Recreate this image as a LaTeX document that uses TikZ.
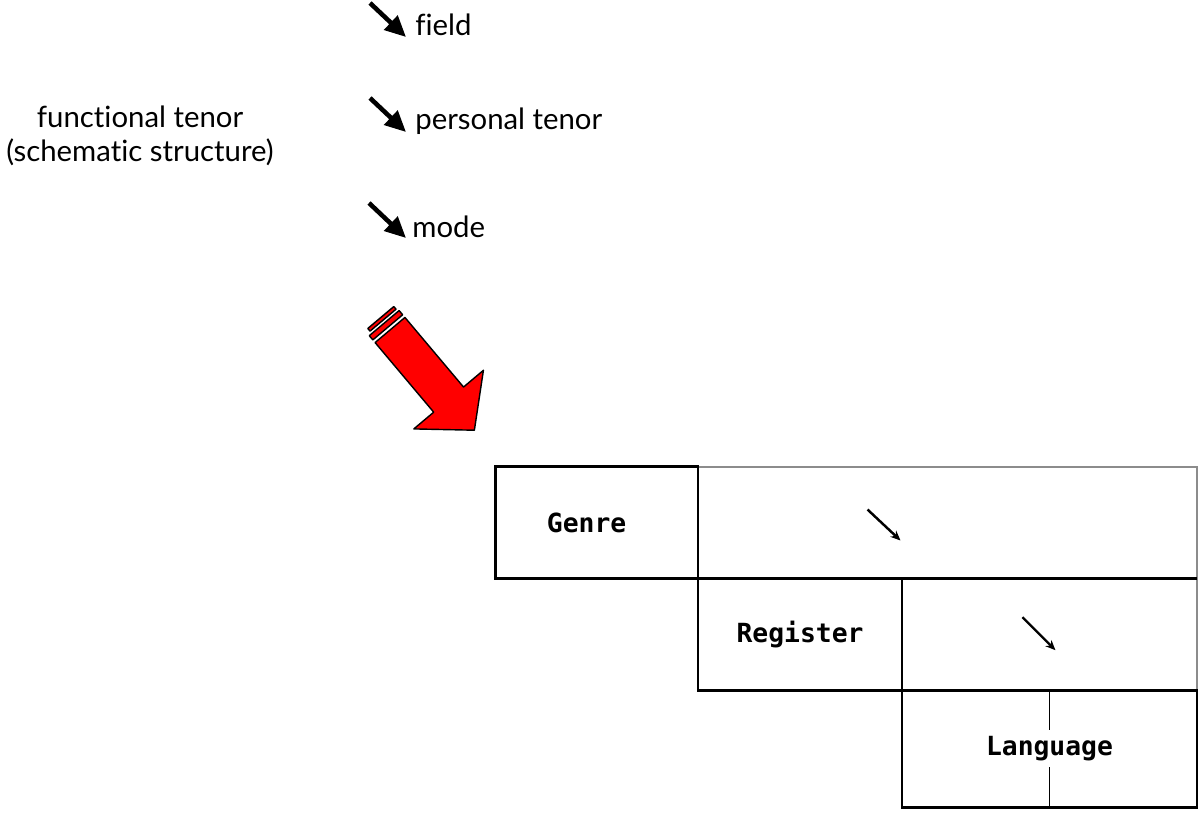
\documentclass[tikz,border=0pt]{standalone}
\usepackage{fontspec}
\setmainfont{Lato}[Ligatures=NoCommon]
\newfontfamily\pixelfont{DejaVu Sans Mono}
\usepackage{tikz}
\usetikzlibrary{arrows.meta,positioning,calc}
\definecolor{arrowred}{RGB}{255,0,0}
\definecolor{rulegray}{RGB}{140,140,140}

\begin{document}
\begin{tikzpicture}[x=0.02cm, y=-0.02cm, font=\fontsize{16.7}{19.5}\selectfont]
    \tikzstyle{pointer} = [line width=2.6pt, -{Triangle[length=0.42cm,width=0.38cm]}]
    \tikzstyle{tinyarrow} = [line width=1.4pt, -{Stealth[length=0.2cm,width=0.17cm]}]
    \tikzstyle{box} = [rectangle, draw, line width=1.6pt, outer sep=0pt, inner sep=0pt, minimum height=2.23cm, font=\pixelfont\bfseries\fontsize{15}{17}\selectfont]
    \tikzstyle{openbox} = [box, draw=rulegray, line width=1pt]
    \useasboundingbox (0,0) rectangle (1200,812);

    % Left label
    \node[align=center] (ftenor) at (140,136) {functional tenor\\(schematic structure)};

    % Context variables
    \node[anchor=base west, inner sep=0pt] (field) at (415,35) {field};
    \node[anchor=base west, inner sep=0pt] (ptenor) at (415,129) {personal tenor};
    \node[anchor=base west, inner sep=0pt] (mode) at (412,237) {mode};
    \draw[pointer] ($(field.base west)+(-45,-32)$) -- ($(field.base west)+(-9,2)$);
    \draw[pointer] ($(ptenor.base west)+(-45,-31)$) -- ($(ptenor.base west)+(-9,3)$);
    \draw[pointer] ($(mode.base west)+(-43,-34)$) -- ($(mode.base west)+(-6,1)$);

    % Big red arrow
    \begin{scope}[shift={(390,330)}, rotate=-49.9, draw=black, fill=arrowred, line width=0.8pt, line join=round]
        \filldraw (0,-19.5) -- (91,-19.5) -- (91,-45.5) -- (131,0) -- (91,45.5) -- (91,19.5) -- (0,19.5) -- cycle;
        \filldraw (-9,-19.5) rectangle (-3.5,19.5);
        \filldraw (-15.5,-18) rectangle (-12,16);
    \end{scope}

    % Stratification boxes
    \node[openbox, minimum width=9.98cm] (genrerest) at (947.5,522.5) {};
    \node[openbox, minimum width=5.9cm, minimum height=2.24cm, below left=0pt of genrerest.south east] (registerrest) {};
    \node[box, minimum width=4.06cm, left=0pt of genrerest] (genre) {Genre\hspace*{0.4cm}};
    \node[box, minimum width=4.08cm, minimum height=2.24cm, left=0pt of registerrest] (register) {Register};
    \draw[line width=1.6pt] (register.north east) -- (registerrest.north east);
    \node[box, minimum width=5.9cm, minimum height=2.34cm, below=0pt of registerrest] (language) {Language};
    \draw[line width=0.8pt] (language.north) -- ++(0,40);
    \draw[line width=0.8pt] (language.south) -- ++(0,-40);

    % Realisation arrows
    \draw[tinyarrow] ($(genrerest.center)+(-80,-13)$) -- ($(genrerest.center)+(-47,18)$);
    \draw[tinyarrow] ($(registerrest.center)+(-27,-17)$) -- ($(registerrest.center)+(6,16)$);
\end{tikzpicture}
\end{document}
